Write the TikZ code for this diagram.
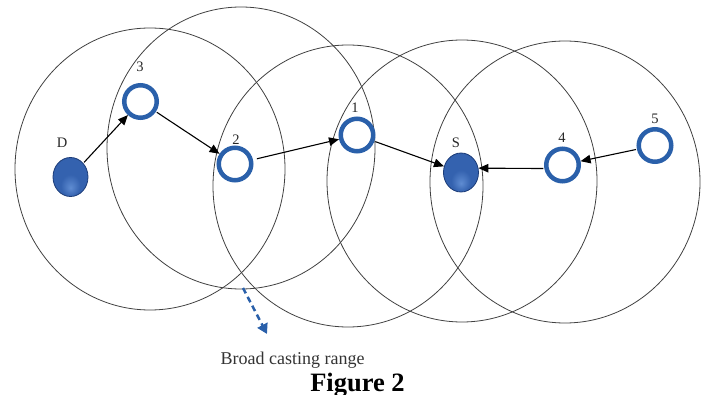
\documentclass[tikz,border=0pt]{standalone}
\usepackage{fontspec}
\setmainfont{Liberation Serif}
\usetikzlibrary{arrows.meta,shapes.geometric}
\definecolor{ringblue}{RGB}{42,96,170}
\definecolor{balldark}{RGB}{28,60,120}
\definecolor{ballhi}{RGB}{95,140,210}
\definecolor{ballmid}{RGB}{52,98,175}
\definecolor{ballrim}{RGB}{34,72,140}
\pgfdeclareradialshading{ballshade}{\pgfpoint{0bp}{-14bp}}{color(0bp)=(ballhi); color(14bp)=(ballmid); color(30bp)=(ballmid); color(42bp)=(ballrim); color(60bp)=(balldark)}
\begin{document}
\begin{tikzpicture}[x=1pt,y=-1pt,
  rangecirc/.style={draw=black!75, line width=0.8pt},
  ringnode/.style={circle, draw=ringblue, line width=4.5pt, minimum size=32.5pt, inner sep=0pt, fill=white},
  ballnode/.style={ellipse, minimum width=35pt, minimum height=39pt, inner sep=0pt, draw=balldark, line width=0.8pt, shading=ballshade},
  lbl/.style={font=\fontsize{14.5}{14.5}\selectfont, text=black!85, anchor=base},
  link/.style={line width=1.1pt, -{Triangle[length=10pt,width=8.5pt]}, shorten <=1pt},
  bcast/.style={line width=2.5pt, draw=ringblue, dash pattern=on 6pt off 4pt, -{Triangle[length=10pt,width=11pt]}}
]
\useasboundingbox (0,0) rectangle (707,395);

% broadcasting ranges
\draw[rangecirc] (150,169) ellipse [x radius=135pt, y radius=141pt];
\draw[rangecirc] (241,148) ellipse [x radius=134pt, y radius=141pt];
\draw[rangecirc] (348,186) ellipse [x radius=135pt, y radius=141pt];
\draw[rangecirc] (462,181) ellipse [x radius=135pt, y radius=141pt];
\draw[rangecirc] (565,182) ellipse [x radius=135pt, y radius=141pt];

% nodes
\node[ballnode] (D) at (70.5,177) {};
\node[ringnode] (n3) at (140.5,101.5) {};
\node[ringnode] (n2) at (235,164) {};
\node[ringnode] (n1) at (357,135) {};
\node[ballnode] (S) at (461,172.5) {};
\node[ringnode] (n4) at (562.5,165) {};
\node[ringnode] (n5) at (655,145.5) {};

% labels
\node[lbl] (lD) at (62,148) {D};
\node[lbl] (l3) at (140,72) {3};
\node[lbl] (l2) at (236,145) {2};
\node[lbl] (l1) at (355,113) {1};
\node[lbl] (lS) at (456,148) {S};
\node[lbl] (l4) at (562,143) {4};
\node[lbl] (l5) at (655,124) {5};

% links
\draw[link] (D) -- (n3);
\draw[link] (n3) -- (n2);
\draw[link, shorten <=4pt] (n2) -- (n1);
\draw[link] (n1) -- (S);
\draw[link] (n4.191) -- (S.14);
\draw[link] (n5) -- (n4);

% broadcasting range pointer
\coordinate (bs) at (243,288);
\coordinate (be) at (267,334);
\draw[bcast] (bs) -- (be);

\node[font=\fontsize{18}{18}\selectfont, text=black!80, anchor=base] (bcr) at (292.5,365) {Broad casting range};
\node[font=\fontsize{26.5}{26.5}\selectfont\bfseries, anchor=base] (fig) at (357.5,391.5) {Figure 2};
\end{tikzpicture}
\end{document}
